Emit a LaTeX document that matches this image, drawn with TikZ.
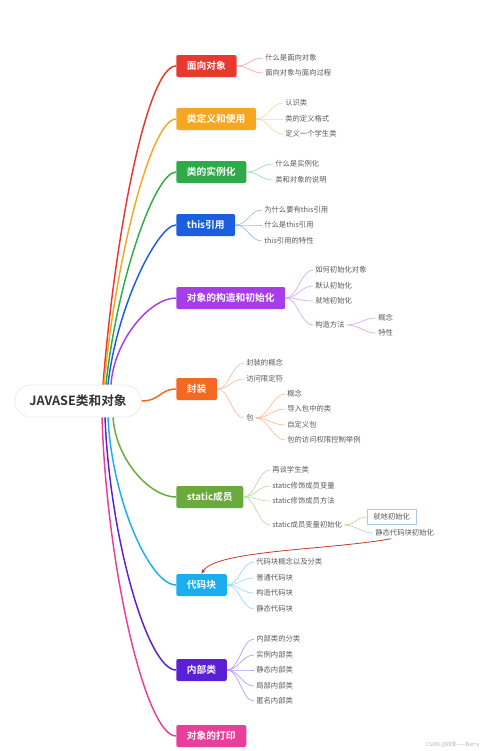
\documentclass[tikz,border=0pt]{standalone}
\usepackage{fontspec}
\setmainfont{Noto Sans CJK SC}[BoldFont = * Bold]
\usetikzlibrary{arrows.meta}
\definecolor{c1}{HTML}{E8392E}
\definecolor{c2}{HTML}{F5A623}
\definecolor{c3}{HTML}{2EAA4A}
\definecolor{c4}{HTML}{1B5FE0}
\definecolor{c5}{HTML}{A63DE8}
\definecolor{c6}{HTML}{F26A21}
\definecolor{c7}{HTML}{6AAA3A}
\definecolor{c8}{HTML}{1AAEF0}
\definecolor{c9}{HTML}{5B1FD6}
\definecolor{c10}{HTML}{E8409A}
\definecolor{redarrow}{HTML}{C0392B}
\definecolor{boxblue}{HTML}{A9C9EE}

\begin{document}
\begin{tikzpicture}[x = 0.75pt, y = -0.75pt,
		br/.style = {rounded corners = 1.5pt, fill = #1, text = white, font = \fontsize{7.3}{8}\selectfont\bfseries, minimum height = 16.5pt, inner xsep = 8pt, anchor = west},
		lf/.style = {anchor = west, font = \fontsize{5.5}{6}\selectfont, text = black!65, inner sep = 1.5pt},
		lk/.style = {#1!45, line width = 0.5pt},
		limb/.style = {#1, line width = 1.1pt}]
		\useasboundingbox (0, 0) rectangle (490, 751);
		\node[rounded corners = 12pt, draw = black!8, fill = white, line width = 0.6pt, minimum height = 24pt, inner xsep = 11pt, font = \fontsize{9.5}{10}\selectfont\bfseries, text = black!80] (0) at (78, 401) {JAVASE类和对象};
		\node[br = c1] (1) at (176, 66) {面向对象};
		\node[br = c2] (2) at (176, 119) {类定义和使用};
		\node[br = c3] (3) at (176, 172) {类的实例化};
		\node[br = c4] (4) at (176, 225) {this引用};
		\node[br = c5] (5) at (176, 298) {对象的构造和初始化};
		\node[br = c6] (6) at (176, 389) {封装};
		\node[br = c7] (7) at (176, 497) {static成员};
		\node[br = c8] (8) at (176, 585) {代码块};
		\node[br = c9] (9) at (176, 670) {内部类};
		\node[br = c10] (10) at (176, 736) {对象的打印};
		\draw[limb = c1] ([xshift = 18.75pt]0.north) .. controls (116, 225) and (148, 66) .. (1.west);
		\draw[limb = c2] ([xshift = 19.5pt]0.north) .. controls (117, 250) and (152, 119) .. (2.west);
		\draw[limb = c3] ([xshift = 21pt]0.north) .. controls (117, 280) and (155, 172) .. (3.west);
		\draw[limb = c4] ([xshift = 22.5pt]0.north) .. controls (117, 305) and (158, 225) .. (4.west);
		\draw[limb = c5] ([xshift = 24.75pt]0.north) .. controls (114, 340) and (150, 298) .. (5.west);
		\draw[limb = c6] (0.east) .. controls (160, 401) and (160, 389) .. (6.west);
		\draw[limb = c7] ([xshift = 26.25pt]0.south) .. controls (116, 460) and (150, 497) .. (7.west);
		\draw[limb = c8] ([xshift = 22.5pt]0.south) .. controls (112, 500) and (150, 585) .. (8.west);
		\draw[limb = c9] ([xshift = 20.25pt]0.south) .. controls (110, 540) and (148, 670) .. (9.west);
		\draw[limb = c10] ([xshift = 18pt]0.south) .. controls (107, 570) and (146, 736) .. (10.west);
		\node[lf] (1a) at (263, 58) {什么是面向对象};
		\node[lf] (1b) at (263, 73) {面向对象与面向过程};
		\foreach \n in {1a, 1b} \draw[lk = c1] (1.east) .. controls +(12, 0) and +(-12, 0) .. (\n.west);
		\node[lf] (2a) at (283, 103) {认识类};
		\node[lf] (2b) at (283, 119) {类的定义格式};
		\node[lf] (2c) at (283, 134) {定义一个学生类};
		\foreach \n in {2a, 2b, 2c} \draw[lk = c2] (2.east) .. controls +(12, 0) and +(-12, 0) .. (\n.west);
		\node[lf] (3a) at (273, 164) {什么是实例化};
		\node[lf] (3b) at (273, 180) {类和对象的说明};
		\foreach \n in {3a, 3b} \draw[lk = c3] (3.east) .. controls +(12, 0) and +(-12, 0) .. (\n.west);
		\node[lf] (4a) at (262, 210) {为什么要有this引用};
		\node[lf] (4b) at (262, 225) {什么是this引用};
		\node[lf] (4c) at (262, 241) {this引用的特性};
		\foreach \n in {4a, 4b, 4c} \draw[lk = c4] (4.east) .. controls +(12, 0) and +(-12, 0) .. (\n.west);
		\node[lf] (5a) at (313, 270) {如何初始化对象};
		\node[lf] (5b) at (313, 286) {默认初始化};
		\node[lf] (5c) at (313, 301) {就地初始化};
		\node[lf] (5d) at (313, 325) {构造方法};
		\foreach \n in {5a, 5b, 5c, 5d} \draw[lk = c5] (5.east) .. controls +(12, 0) and +(-12, 0) .. (\n.west);
		\node[lf] (5e) at (376, 318) {概念};
		\node[lf] (5f) at (376, 333) {特性};
		\foreach \n in {5e, 5f} \draw[lk = c5] (5d.east) .. controls +(12, 0) and +(-12, 0) .. (\n.west);
		\node[lf] (6a) at (244, 363) {封装的概念};
		\node[lf] (6b) at (244, 379) {访问限定符};
		\node[lf] (6c) at (244, 418) {包};
		\foreach \n in {6a, 6b, 6c} \draw[lk = c6] (6.east) .. controls +(12, 0) and +(-12, 0) .. (\n.west);
		\node[lf] (6d) at (285, 394) {概念};
		\node[lf] (6e) at (285, 409) {导入包中的类};
		\node[lf] (6f) at (285, 425) {自定义包};
		\node[lf] (6g) at (285, 440) {包的访问权限控制举例};
		\foreach \n in {6d, 6e, 6f, 6g} \draw[lk = c6] (6c.east) .. controls +(12, 0) and +(-12, 0) .. (\n.west);
		\node[lf] (7a) at (270, 470) {再谈学生类};
		\node[lf] (7b) at (270, 486) {static修饰成员变量};
		\node[lf] (7c) at (270, 501) {static修饰成员方法};
		\node[lf] (7d) at (270, 525) {static成员变量初始化};
		\foreach \n in {7a, 7b, 7c, 7d} \draw[lk = c7] (7.east) .. controls +(12, 0) and +(-12, 0) .. (\n.west);
		\node[lf, draw = boxblue, fill = white, line width = 0.6pt, inner xsep = 4.5pt, inner ysep = 3pt] (7e) at (367, 517) {就地初始化};
		\node[lf] (7f) at (373, 533) {静态代码块初始化};
		\foreach \n in {7e, 7f} \draw[lk = c7] (7d.east) .. controls +(12, 0) and +(-12, 0) .. (\n.west);
		\node[lf] (8a) at (254, 562) {代码块概念以及分类};
		\node[lf] (8b) at (254, 578) {普通代码块};
		\node[lf] (8c) at (254, 593) {构造代码块};
		\node[lf] (8d) at (254, 609) {静态代码块};
		\foreach \n in {8a, 8b, 8c, 8d} \draw[lk = c8] (8.east) .. controls +(12, 0) and +(-12, 0) .. (\n.west);
		\node[lf] (9a) at (254, 639) {内部类的分类};
		\node[lf] (9b) at (254, 655) {实例内部类};
		\node[lf] (9c) at (254, 670) {静态内部类};
		\node[lf] (9d) at (254, 686) {局部内部类};
		\node[lf] (9e) at (254, 701) {匿名内部类};
		\foreach \n in {9a, 9b, 9c, 9d, 9e} \draw[lk = c9] (9.east) .. controls +(12, 0) and +(-12, 0) .. (\n.west);
		\draw[redarrow, line width = 0.6pt, -{Stealth[length = 3.5pt, width = 3pt]}] ([xshift = -10pt]7f.south) .. controls (330, 550) and (215, 550) .. (8.north);
		\node[anchor = east, font = \fontsize{4}{4}\selectfont, text = black!30] (wm) at (484, 745) {CSDN @四季——Barry};
	\end{tikzpicture}
\end{document}
